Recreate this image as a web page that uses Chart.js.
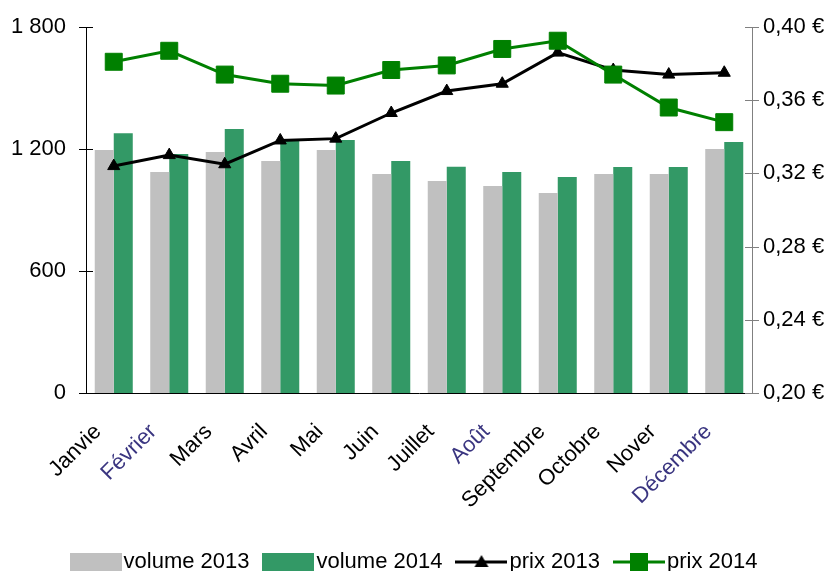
<!DOCTYPE html>
<html>
<head>
<meta charset="utf-8">
<script src="https://cdn.jsdelivr.net/npm/chart.js@4.4.0/dist/chart.umd.min.js"></script>
<style>
  html, body { margin: 0; padding: 0; background: #fff; }
  #wrap { width: 836px; height: 571px; position: relative; overflow: hidden; }
</style>
</head>
<body>
<div id="wrap"><canvas id="volumeChart"></canvas></div>
<script>
// monthly volumes (left axis) and prices (right axis)
const months = ['Janvie', 'Février', 'Mars', 'Avril', 'Mai', 'Juin', 'Juillet', 'Août', 'Septembre', 'Octobre', 'Nover', 'Décembre'];
const volume2013 = [1195, 1087, 1185, 1141, 1195, 1077, 1043, 1018, 984, 1077, 1077, 1200];
const volume2014 = [1277, 1175, 1298, 1244, 1244, 1141, 1113, 1087, 1062, 1111, 1111, 1234];
const prix2013 = [0.324, 0.330, 0.325, 0.338, 0.339, 0.353, 0.365, 0.369, 0.386, 0.3765, 0.374, 0.375];
const prix2014 = [0.381, 0.387, 0.374, 0.369, 0.368, 0.3765, 0.379, 0.388, 0.3925, 0.374, 0.356, 0.348];

const FONT = 'Liberation Sans, Arial, sans-serif';
const GREY = '#C0C0C0', GREEN_BAR = '#339966', GREEN = '#008000';

// legend samples: a box for bars, a line with its marker for the lines
function legendSample(kind, color) {
    const c = document.createElement('canvas');
    c.width = 52; c.height = 18;
    const g = c.getContext('2d');
    if (kind === 'box') {
        g.fillStyle = color;
        g.fillRect(0, 0, 52, 18);
    } else {
        g.strokeStyle = color;
        g.lineWidth = 3;
        g.beginPath(); g.moveTo(0, 9); g.lineTo(52, 9); g.stroke();
        g.fillStyle = color;
        g.beginPath();
        if (kind === 'triangle') {
            g.moveTo(26, 2); g.lineTo(33, 14); g.lineTo(19, 14);
        } else {
            g.rect(17, 0, 18, 18);
        }
        g.closePath(); g.fill();
    }
    return c;
}
const samples = [legendSample('box', GREY), legendSample('box', GREEN_BAR), legendSample('triangle', '#000'), legendSample('square', GREEN)];

// little ticks crossing the value axes
const crossTicks = {
    id: 'crossTicks',
    afterDraw(chart) {
        const ctx = chart.ctx;
        [['y', '#000'], ['y1', '#808080']].forEach(([id, col]) => {
            const s = chart.scales[id];
            const x0 = id === 'y' ? s.right : s.left;
            ctx.save();
            ctx.strokeStyle = col; ctx.lineWidth = 1;
            s.ticks.forEach(t => {
                const y = Math.round(s.getPixelForValue(t.value)) + 0.5;
                ctx.beginPath(); ctx.moveTo(x0 - 7, y); ctx.lineTo(x0 + 7, y); ctx.stroke();
            });
            ctx.restore();
        });
    }
};

const blueTicks = [1, 7, 11];

new Chart(document.getElementById('volumeChart').getContext('2d'), {
    type: 'bar',
    data: {
        labels: months,
        datasets: [
            { label: 'volume 2013', data: volume2013, backgroundColor: GREY, yAxisID: 'y', order: 2,
              categoryPercentage: 0.685, barPercentage: 1 },
            { label: 'volume 2014', data: volume2014, backgroundColor: GREEN_BAR, yAxisID: 'y', order: 3,
              categoryPercentage: 0.685, barPercentage: 1 },
            { type: 'line', label: 'prix 2013', data: prix2013, yAxisID: 'y1', order: 1,
              borderColor: '#000', borderWidth: 3, tension: 0,
              pointStyle: 'triangle', pointRadius: 7, pointBackgroundColor: '#000', pointBorderColor: '#000', pointBorderWidth: 1 },
            { type: 'line', label: 'prix 2014', data: prix2014, yAxisID: 'y1', order: 0,
              borderColor: GREEN, borderWidth: 3, tension: 0,
              pointStyle: 'rect', pointRadius: 12, pointBackgroundColor: GREEN, pointBorderColor: GREEN, pointBorderWidth: 1 }
        ]
    },
    options: {
        responsive: true, maintainAspectRatio: false, animation: false,
        layout: { padding: { top: 27, left: 0, right: 0, bottom: -12 } },
        scales: {
            x: {
                grid: { display: false, drawTicks: false },
                border: { display: true, color: '#000', width: 1 },
                ticks: {
                    autoSkip: false, minRotation: 45, maxRotation: 45, padding: 26, labelOffset: -16,
                    font: { family: FONT, size: 22 },
                    color: ctx => blueTicks.includes(ctx.index) ? '#3a3580' : '#000'
                },
                afterFit: s => { s.height = 136; }
            },
            y: {
                position: 'left', min: 0, max: 1800,
                grid: { display: false, drawTicks: true, tickLength: 20 },
                border: { display: true, color: '#000', width: 1 },
                ticks: {
                    stepSize: 600, padding: 0, color: '#000', font: { family: FONT, size: 22 },
                    callback: v => String(v).replace(/\B(?=(\d{3})+(?!\d))/g, ' ')
                },
                afterFit: s => { s.width = 86; }
            },
            y1: {
                position: 'right', min: 0.2, max: 0.4,
                grid: { display: false, drawTicks: true, tickLength: 11 },
                border: { display: true, color: '#808080', width: 1 },
                ticks: {
                    stepSize: 0.04, padding: 0, color: '#000', font: { family: FONT, size: 22 },
                    callback: v => v.toFixed(2).replace('.', ',') + ' €'
                },
                afterFit: s => { s.width = 84; }
            }
        },
        plugins: {
            legend: {
                display: true, position: 'bottom',
                labels: {
                    usePointStyle: true, pointStyleWidth: 34, padding: 22,
                    color: '#000', font: { family: FONT, size: 22 },
                    generateLabels: chart => chart.data.datasets.map((ds, i) => ({
                        text: ds.label, pointStyle: samples[i], datasetIndex: i,
                        fillStyle: 'rgba(0,0,0,0)', strokeStyle: 'rgba(0,0,0,0)', lineWidth: 0,
                        hidden: false, fontColor: '#000'
                    }))
                }
            },
            tooltip: { enabled: false }
        }
    },
    plugins: [crossTicks]
});
</script>
</body>
</html>
